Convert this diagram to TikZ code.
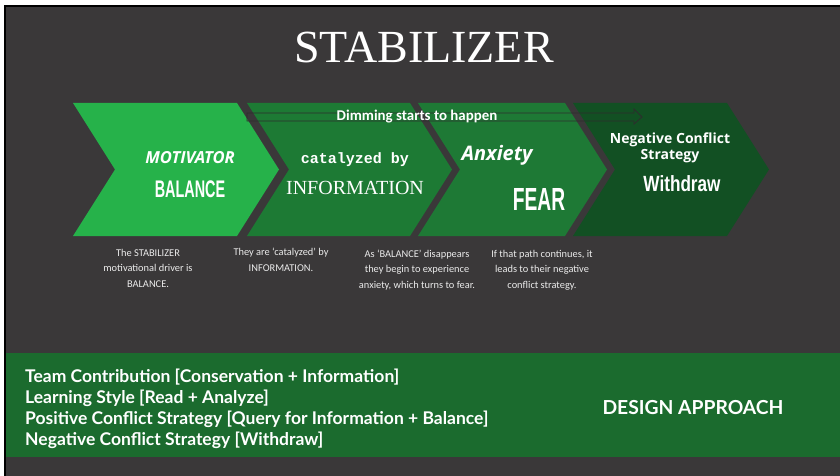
\documentclass[tikz,border=0pt]{standalone}
\usepackage{fontspec}
\setmainfont{Liberation Serif}
\newfontfamily\descfont{Carlito}
\newfontfamily\headfont{Open Sans}
\newfontfamily\courfont{Liberation Mono}
\newfontfamily\narrowfont{Liberation Sans Bold}[FakeStretch=0.6]
\newfontfamily\halfnarrowfont{Liberation Sans Bold}[FakeStretch=0.78]
\newfontfamily\bandfont{Lato}

\definecolor{slate}{RGB}{58,56,57}
\definecolor{chevA}{RGB}{38,178,74}
\definecolor{chevB}{RGB}{29,122,52}
\definecolor{chevC}{RGB}{30,121,53}
\definecolor{chevD}{RGB}{18,80,35}
\definecolor{band}{RGB}{27,107,46}
\definecolor{arrowline}{RGB}{45,45,45}

\tikzset{
  txt/.style={text=white, inner sep=0pt, align=center},
  desc/.style={txt, text=white!92!black, font=\descfont\fontsize{10.4}{15.5}\selectfont},
}

\begin{document}
\begin{tikzpicture}[x=1pt, y=-1pt]
\def \ctop {103}
\def \cbot {236}
\def \cmid {169.5}
\def \dep {42} % depth of the chevron tip

\useasboundingbox (0,0) rectangle (840,476);
\fill[white] (0,0) rectangle (840,476);
\fill[black] (4,5) rectangle (840,476);
\fill[slate] (6,7) rectangle (840,476);

\node[txt, font=\fontsize{46}{46}\selectfont] (title) at (424,47) {STABILIZER};

\foreach \l/\r/\col in {73/237/chevA, 247/410/chevB, 418/565/chevC, 573/727/chevD}
{
	\fill[\col] (\l,\ctop) -- (\r,\ctop) -- (\r+\dep,\cmid) -- (\r,\cbot)
	-- (\l,\cbot) -- (\l+\dep,\cmid) -- cycle;
}

% hollow arrow over the middle chevrons
\coordinate (dimL) at (247,117);
\coordinate (dimR) at (642,117);
\draw[arrowline, line width=0.8pt] ([yshift=-4]dimL) -- ([xshift=-8,yshift=-4]dimR)
	-- ([xshift=-8,yshift=-7]dimR) -- (dimR) -- ([xshift=-8,yshift=8]dimR)
	-- ([xshift=-8,yshift=4]dimR) -- ([yshift=4]dimL) -- cycle;
\node[txt, font=\descfont\bfseries\fontsize{14.9}{14.9}\selectfont] (dim) at (417,117) {Dimming starts to happen};

\node[txt, font=\headfont\bfseries\itshape\fontsize{16.6}{16.6}\selectfont] (motiv) at (190,158) {MOTIVATOR};
\node[txt, font=\narrowfont\fontsize{24}{24}\selectfont] (balance) at (190,189) {BALANCE};

\node[txt, font=\courfont\bfseries\fontsize{15}{15}\selectfont] (catal) at (355,160) {catalyzed by};
\node[txt, font=\fontsize{20}{20}\selectfont] (inform) at (355,188) {INFORMATION};

\node[txt, font=\headfont\bfseries\itshape\fontsize{20}{20}\selectfont] (anx) at (497,155) {Anxiety};
\node[txt, font=\narrowfont\fontsize{32}{32}\selectfont] (fear) at (539,199) {FEAR};

\node[txt, font=\headfont\bfseries\fontsize{14}{15.5}\selectfont] (negconf) at (670,148) {Negative Conflict\\Strategy};
\node[txt, font=\halfnarrowfont\fontsize{22}{22}\selectfont] (withdraw) at (682,184) {Withdraw};

\node[desc] (descA) at (148,268) {The STABILIZER\\motivational driver is\\BALANCE.};
\node[desc] (descB) at (281,260) {They are ‘catalyzed’ by\\INFORMATION.};
\node[desc] (descC) at (417,270) {As ‘BALANCE’ disappears\\they begin to experience\\anxiety, which turns to fear.};
\node[desc] (descD) at (542,270) {If that path continues, it\\leads to their negative\\conflict strategy.};

\fill[band] (6,353) rectangle (840,457);
\node[txt, anchor=west, align=left, font=\bandfont\bfseries\fontsize{17.5}{21}\selectfont] (traits) at (25,409)
	{Team Contribution [Conservation + Information]\\Learning Style [Read + Analyze]\\
	Positive Conflict Strategy [Query for Information + Balance]\\Negative Conflict Strategy [Withdraw]};
\node[txt, font=\bandfont\bfseries\fontsize{19.3}{19.3}\selectfont] (design) at (693,408) {DESIGN APPROACH};
\end{tikzpicture}
\end{document}
